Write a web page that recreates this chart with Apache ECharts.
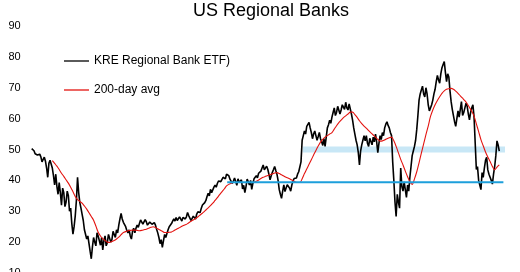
<!DOCTYPE html>
<html><head><meta charset="utf-8">
<script src="https://cdn.jsdelivr.net/npm/echarts@6/dist/echarts.min.js"></script>
<style>html,body{margin:0;padding:0;background:#fff}#c{width:520px;height:272px}</style>
</head><body><div id="c"></div>
<script>
// Chart text
const titleText = 'US Regional Banks';
const seriesNames = ['KRE Regional Bank ETF)', '200-day avg'];
// y axis ticks: 10..90 step 10
const yMin = 10, yMax = 90, yStep = 10;

// KRE closes, two readings per month (index 0 = Jan 2007 ... Jan 2024)
const kre = [
 50.3, 50.8, 49.6, 48.6, 49.0, 48.2, 47.8, 48.5, 47.6, 46.0,
 46.8, 47.5, 46.2, 44.0, 41.0, 45.5, 46.5, 47.0, 44.0, 41.5,
 38.5, 42.0, 38.0, 35.5, 39.3, 36.0, 32.0, 37.5, 36.0, 31.5,
 33.0, 36.5, 35.0, 30.0, 31.0, 26.0, 22.6, 25.0, 28.5, 33.5,
 41.0, 36.0, 32.8, 31.0, 29.0, 27.0, 24.0, 23.5, 21.0, 22.0,
 19.5, 17.0, 14.6, 18.5, 21.5, 20.0, 18.8, 23.0, 22.0, 20.5,
 19.0, 21.5, 17.5, 20.5, 22.0, 18.8, 19.9, 22.5, 22.0, 20.0,
 20.8, 23.5, 22.5, 21.5, 24.0, 23.0, 25.5, 27.5, 29.3, 27.5,
 26.4, 27.0, 25.0, 23.8, 23.0, 24.0, 22.0, 21.0, 23.5, 24.5,
 23.0, 24.5, 25.5, 24.8, 26.0, 27.2, 27.0, 25.8, 26.0, 27.3,
 26.6, 25.5, 25.6, 26.5, 26.5, 25.8, 25.3, 26.3, 25.5, 24.2,
 23.0, 21.5, 19.5, 20.8, 18.3, 20.5, 22.5, 21.5, 22.8, 24.0,
 25.0, 24.5, 26.0, 26.8, 27.5, 26.8, 28.0, 27.0, 26.8, 28.2,
 27.5, 26.8, 28.0, 28.6, 27.5, 28.2, 29.6, 28.6, 28.0, 27.0,
 27.4, 28.4, 28.0, 27.5, 29.1, 29.8, 30.3, 29.6, 31.0, 32.0,
 31.5, 32.8, 33.5, 34.8, 35.8, 35.0, 37.1, 36.0, 36.4, 37.8,
 38.5, 37.8, 39.0, 39.8, 40.4, 39.6, 40.0, 41.0, 41.0, 40.5,
 42.0, 42.6, 41.5, 40.4, 40.8, 39.0, 39.8, 40.8, 39.6, 38.4,
 40.5, 39.4, 39.0, 40.2, 37.2, 38.4, 36.0, 38.0, 40.4, 39.5,
 38.5, 40.0, 37.1, 39.0, 40.5, 40.0, 41.5, 40.8, 42.3, 42.0,
 43.0, 44.0, 45.0, 43.4, 44.0, 44.6, 43.6, 42.0, 40.2, 41.5,
 42.6, 43.5, 44.5, 43.2, 42.0, 40.0, 37.0, 35.5, 34.2, 36.5,
 38.5, 36.4, 37.5, 38.6, 39.0, 37.5, 36.5, 38.5, 39.8, 40.6,
 41.0, 40.8, 42.0, 42.8, 43.4, 46.0, 53.0, 54.5, 56.0, 55.0,
 57.5, 58.0, 58.8, 57.0, 55.5, 53.5, 55.0, 56.0, 54.5, 53.0,
 54.2, 55.5, 53.5, 52.5, 51.3, 53.5, 51.0, 54.0, 57.0, 58.0,
 59.5, 58.5, 60.5, 62.0, 63.5, 61.0, 62.0, 64.0, 64.2, 61.5,
 62.8, 64.5, 65.0, 63.0, 65.3, 63.5, 62.8, 64.8, 64.2, 61.5,
 59.5, 57.0, 55.0, 53.0, 51.5, 49.0, 45.0, 49.5, 51.5, 53.0,
 54.5, 52.8, 54.5, 52.0, 51.0, 53.6, 52.6, 51.5, 54.0, 52.5,
 55.0, 52.5, 49.0, 52.0, 54.5, 53.2, 55.5, 54.5, 57.0, 58.2,
 59.0, 57.8, 57.0, 55.5, 54.5, 46.0, 40.0, 33.0, 28.3, 35.5,
 33.0, 31.0, 44.0, 38.0, 36.5, 39.5, 37.0, 34.5, 38.5, 36.5,
 41.0, 44.5, 48.0, 49.5, 51.0, 53.0, 56.5, 61.0, 66.0, 68.0,
 69.3, 70.5, 68.0, 67.0, 70.0, 68.0, 64.5, 62.5, 63.0, 64.5,
 66.0, 68.0, 69.5, 72.0, 74.0, 72.5, 71.5, 74.5, 76.5, 77.5,
 78.5, 75.0, 72.0, 74.5, 73.5, 69.0, 65.5, 63.0, 61.0, 59.0,
 57.5, 60.0, 62.5, 60.5, 63.0, 65.5, 61.0, 62.0, 63.5, 65.0,
 64.0, 61.5, 59.6, 62.0, 63.5, 64.5, 60.5, 52.0, 43.5, 44.5,
 40.0, 38.5, 37.0, 42.5, 41.0, 44.0, 46.5, 47.5, 43.4, 42.0,
 41.0, 40.0, 38.8, 42.0, 44.5, 48.0, 52.8, 51.5, 49.5
];
const kreStepMonths = 0.5;

// 200-day moving average, monthly, starting at month index 9
const ma200Start = 9;
const ma200 = [
 46.4, 45.5, 44.6, 43.5, 42.3, 41.3, 40.2, 39.1, 37.8, 36.3, 34.8,
 33.8, 33.2, 32.6, 31.7, 30.7, 29.5, 28.3, 27.1, 25.2, 23.2,
 22.0, 21.1, 20.5, 20.0, 19.9, 20.2, 20.5, 21.0, 21.6, 22.4,
 23.1, 23.4, 23.7, 23.8, 23.9, 23.9, 23.8, 23.7, 23.8, 24.0,
 24.2, 24.5, 24.8, 25.0, 24.7, 24.3, 23.9, 23.5, 23.1, 23.1,
 23.2, 23.3, 23.7, 24.1, 24.5, 24.9, 25.3, 25.6, 26.0, 26.5,
 27.0, 27.4, 27.9, 28.5, 29.1, 29.7, 30.4, 31.1, 31.8, 32.6,
 33.5, 34.4, 35.4, 36.3, 37.2, 38.2, 38.7, 39.1, 39.3, 39.3,
 39.3, 39.3, 39.3, 39.3, 39.3, 39.3, 39.3, 39.4, 39.7, 40.1,
 40.6, 41.0, 41.3, 41.6, 41.9, 42.1, 42.4, 42.5, 42.2, 41.8,
 41.4, 41.0, 40.7, 40.3, 39.9, 39.5, 39.3, 39.3, 40.5, 42.2,
 43.7, 45.2, 46.7, 48.2, 49.7, 51.1, 52.4, 53.3, 54.0, 54.5,
 55.0, 55.5, 56.6, 57.7, 58.7, 59.5, 60.3, 60.9, 61.5, 62.1,
 62.1, 61.3, 60.4, 59.3, 58.4, 57.6, 56.9, 56.1, 55.4, 54.7,
 54.0, 53.3, 52.7, 52.8, 53.1, 53.5, 53.8, 54.0, 52.8, 51.0,
 48.9, 46.8, 45.0, 43.0, 41.2, 39.6, 38.7, 40.5, 42.8, 45.7,
 48.8, 51.8, 54.8, 57.6, 60.7, 62.8, 64.5, 65.9, 67.1, 68.2,
 69.0, 69.5, 69.7, 69.8, 69.5, 68.9, 68.2, 67.4, 66.6, 65.8,
 64.8, 63.6, 62.4, 60.8, 58.3, 55.8, 53.2, 51.2, 49.2, 47.6,
 46.1, 44.5, 43.4, 44.3, 45.0
];

// Support line and resistance zone (price levels, month indexes)
const supportLevel = 39.4, supportFrom = 85.3, supportTo = 205.8;
const zoneLow = 49.0, zoneHigh = 51.0, zoneFrom = 118.3, zoneTo = 206.5;
const xMax = 206.5;

const font = 'Liberation Sans, Arial, sans-serif';
const chart = echarts.init(document.getElementById('c'), null, {renderer: 'canvas'});
chart.setOption({
  animation: false,
  backgroundColor: '#fff',
  title: {
    text: titleText, left: 193, top: 2, padding: 0,
    textStyle: {fontFamily: font, fontSize: 18, fontWeight: 'normal', color: '#000'}
  },
  legend: [
    {data: [seriesNames[0]], left: 64, top: 55, padding: 0, orient: 'vertical', icon: 'rect',
     itemWidth: 25, itemHeight: 1.3, textStyle: {fontFamily: font, fontSize: 12, color: '#000'}},
    {data: [seriesNames[1]], left: 64, top: 84, padding: 0, orient: 'vertical', icon: 'rect',
     itemWidth: 25, itemHeight: 1.3, textStyle: {fontFamily: font, fontSize: 12, color: '#000'}}
  ],
  grid: {left: 31.7, top: 26, width: 473.3, height: 247, containLabel: false, outerBoundsMode: 'none'},
  xAxis: {type: 'value', min: 0, max: xMax, show: false},
  yAxis: {
    type: 'value', min: yMin, max: yMax, interval: yStep,
    axisLine: {show: false}, axisTick: {show: false}, splitLine: {show: false},
    axisLabel: {fontFamily: font, fontSize: 11, color: '#000', margin: 11}
  },
  series: [
    {
      name: 'zone', type: 'line', data: [[zoneFrom, zoneLow]], symbol: 'none', showSymbol: false,
      lineStyle: {width: 0}, z: 1, silent: true,
      markArea: {silent: true, itemStyle: {color: '#c8e7f6'},
        data: [[{coord: [zoneFrom, zoneLow]}, {coord: [zoneTo, zoneHigh]}]]}
    },
    {
      name: seriesNames[0], type: 'line', symbol: 'none', z: 2,
      data: kre.map((v, i) => [i * kreStepMonths, v]),
      lineStyle: {color: '#000', width: 1.6}, itemStyle: {color: '#000'}
    },
    {
      name: seriesNames[1], type: 'line', symbol: 'none', z: 3, smooth: 0.3,
      data: ma200.map((v, i) => [i + ma200Start, v]),
      lineStyle: {color: '#e3130f', width: 1.1}, itemStyle: {color: '#e3130f'}
    },
    {
      name: 'support', type: 'line', symbol: 'none', z: 4, silent: true,
      data: [[supportFrom, supportLevel], [supportTo, supportLevel]],
      lineStyle: {color: '#1d9fdb', width: 2}
    }
  ]
});
</script></body></html>
